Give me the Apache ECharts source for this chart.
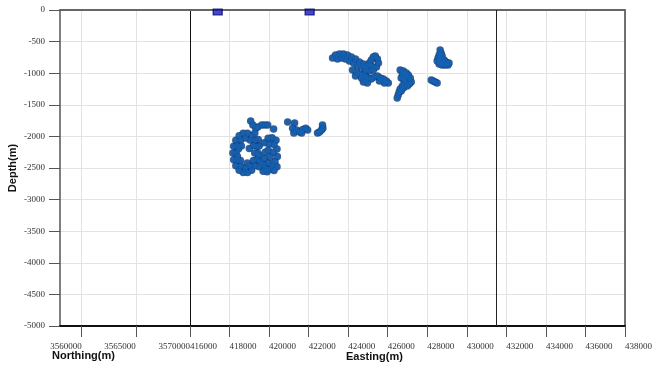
<!DOCTYPE html>
<html>
<head>
<meta charset="utf-8">
<script src="https://cdn.jsdelivr.net/npm/echarts@6/dist/echarts.min.js"></script>
<style>
  html, body { margin: 0; padding: 0; background: #ffffff; }
  #chart { width: 664px; height: 368px; }
</style>
</head>
<body>
<div id="chart"></div>
<script>
// Axis ranges and tick labels
const northingRange = [3558000, 3570000];
const northingTicks = [3560000, 3565000, 3570000];
const eastingRange = [416000, 438000];
const eastingStep = 2000;
const depthRange = [-5000, 0];
const depthStep = 500;
const boxEdgeEasting = 431500;

// Event locations [Easting (m), Depth (m)]
const southCluster = [
  // outer rim
  [419430, -2262], [419392, -2154], [419283, -2059], [419115, -1988], [418909, -1951],
  [418691, -1951], [418485, -1988], [418317, -2059], [418208, -2154], [418170, -2262],
  [418208, -2370], [418317, -2465], [418485, -2536], [418691, -2573], [418909, -2573],
  [419115, -2536], [419283, -2465], [419392, -2370],
  // inner rim
  [419272, -2262], [419209, -2144], [419036, -2057], [418800, -2025], [418564, -2057],
  [418391, -2144], [418328, -2262], [418391, -2380], [418564, -2467], [418800, -2499],
  [419036, -2467], [419209, -2380], [418400, -2320], [418450, -2200],
  // scattered interior events
  [418600, -2150], [419000, -2190], [418900, -2420], [418550, -2380],
  // central column
  [419450, -2050], [419500, -2150], [419480, -2300], [419550, -2400], [419500, -2480],
  // eastern lobe
  [419950, -2030], [420150, -2020], [420350, -2060], [420000, -2120], [420250, -2130],
  [420400, -2200], [419950, -2220], [420200, -2250], [420420, -2320], [420050, -2330],
  [420300, -2400], [419950, -2420], [420150, -2460], [420400, -2480], [420000, -2520],
  [420250, -2540], [419800, -2500], [419700, -2440], [419750, -2350], [419800, -2250],
  [419750, -2100], [419700, -2550], [419900, -2560],
  // upward tail
  [419070, -1756], [419180, -1820], [419330, -1867], [419280, -1946], [419430, -1851],
  [419630, -1820], [419780, -1820], [419930, -1820], [420230, -1883]
];
const midCluster = [
  [420940, -1772], [421290, -1788], [421190, -1870], [421390, -1900], [421250, -1946],
  [421540, -1930], [421700, -1890], [421850, -1870], [421950, -1900], [421650, -1946],
  [422700, -1820], [422450, -1946], [422550, -1930], [422650, -1900], [422720, -1870]
];
const northCluster = [
  [423210, -759], [423360, -712], [423560, -696], [423760, -696], [423960, -712],
  [424160, -744], [424370, -775], [424570, -823], [424770, -854], [423460, -775],
  [423660, -759], [423860, -775], [424060, -807], [424270, -838], [424470, -870],
  [424670, -902], [424870, -918], [424970, -886], [425070, -838], [425170, -791],
  [425270, -744], [425370, -728], [425480, -775], [425530, -838], [425430, -902],
  [425270, -949], [425070, -965], [424870, -965], [425170, -886],
  [424220, -949], [424420, -981], [424570, -1012], [424720, -1028], [424870, -1044],
  [425020, -1076], [425170, -1092], [425320, -1060], [425480, -1044], [425630, -1076],
  [425780, -1092], [425930, -1123], [426030, -1155], [425830, -1155], [425580, -1123],
  [424370, -1044], [424670, -1076], [424870, -1107], [424970, -1155], [424770, -1139]
];
const eastCluster = [
  [426630, -949], [426790, -965], [426940, -997], [426740, -1012], [426890, -1044],
  [427040, -1028], [427140, -1076], [427190, -1139], [427090, -1171], [426940, -1107],
  [426790, -1092], [426680, -1076], [426840, -1155], [426740, -1202], [426630, -1250],
  [426580, -1297], [426530, -1345], [426480, -1392], [426680, -1281], [426790, -1234],
  [426990, -1202]
];
const farEastCluster = [
  [428650, -633], [428700, -680], [428600, -712], [428750, -728], [428550, -759],
  [428700, -775], [428850, -791], [428500, -807], [428650, -823], [428800, -838],
  [428950, -823], [429100, -838], [429050, -870], [428900, -870], [428750, -870],
  [428600, -854],
  [428200, -1107], [428300, -1123], [428400, -1139], [428500, -1155]
];
const stations = [[417400, -32], [422050, -32]];

const events = [].concat(southCluster, midCluster, northCluster, eastCluster, farEastCluster);

const tickFont = { fontFamily: '"Liberation Serif", serif', fontSize: 9, color: '#333' };
const gridLine = { show: true, lineStyle: { color: '#e3e3e3', width: 1 } };
const plain = v => String(v);

const chart = echarts.init(document.getElementById('chart'), null, { renderer: 'canvas' });
chart.setOption({
  backgroundColor: '#ffffff',
  animation: false,
  grid: [
    { left: 60, top: 10, width: 130, height: 316 },
    { left: 190, top: 10, width: 435, height: 316 }
  ],
  xAxis: [
    {
      gridIndex: 0, type: 'value', position: 'bottom',
      min: northingRange[0], max: northingRange[1],
      axisLine: { show: true, onZero: false, lineStyle: { color: '#111', width: 2 } },
      axisTick: { show: true, customValues: northingTicks, length: 11, lineStyle: { color: '#555' } },
      axisLabel: Object.assign({ customValues: northingTicks, align: 'right', margin: 16, formatter: plain }, tickFont),
      splitLine: gridLine
    },
    {
      gridIndex: 1, type: 'value', position: 'bottom',
      min: eastingRange[0], max: eastingRange[1], interval: eastingStep,
      axisLine: { show: true, onZero: false, lineStyle: { color: '#111', width: 2 } },
      axisTick: { show: true, length: 11, lineStyle: { color: '#555' } },
      axisLabel: Object.assign({ align: 'left', margin: 16, formatter: plain, showMinLabel: true, showMaxLabel: true, hideOverlap: false }, tickFont),
      splitLine: gridLine
    },
    {
      gridIndex: 0, type: 'value', position: 'top',
      min: northingRange[0], max: northingRange[1],
      axisLine: { show: true, onZero: false, lineStyle: { color: '#666', width: 2 } },
      axisTick: { show: false }, axisLabel: { show: false }, splitLine: { show: false }
    },
    {
      gridIndex: 1, type: 'value', position: 'top',
      min: eastingRange[0], max: eastingRange[1],
      axisLine: { show: true, onZero: false, lineStyle: { color: '#666', width: 2 } },
      axisTick: { show: false }, axisLabel: { show: false }, splitLine: { show: false }
    }
  ],
  yAxis: [
    {
      gridIndex: 0, type: 'value', position: 'left',
      min: depthRange[0], max: depthRange[1], interval: depthStep,
      name: 'Depth(m)', nameLocation: 'middle', nameGap: 42,
      nameTextStyle: { fontFamily: '"Liberation Sans", Arial, sans-serif', fontWeight: 'bold', fontSize: 11, color: '#111' },
      axisLine: { show: true, onZero: false, lineStyle: { color: '#555', width: 1.5 } },
      axisTick: { show: true, length: 11, lineStyle: { color: '#555' } },
      axisLabel: Object.assign({ margin: 15, formatter: plain }, tickFont),
      splitLine: gridLine
    },
    {
      gridIndex: 1, type: 'value', position: 'left',
      min: depthRange[0], max: depthRange[1], interval: depthStep,
      axisLine: { show: true, onZero: false, lineStyle: { color: '#111', width: 1 } },
      axisTick: { show: false }, axisLabel: { show: false },
      splitLine: gridLine
    },
    {
      gridIndex: 1, type: 'value', position: 'right',
      min: depthRange[0], max: depthRange[1],
      axisLine: { show: true, onZero: false, lineStyle: { color: '#444', width: 1.5 } },
      axisTick: { show: false }, axisLabel: { show: false }, splitLine: { show: false }
    }
  ],
  graphic: [
    {
      type: 'text', left: 52, top: 350,
      style: { text: 'Northing(m)', fill: '#111', font: 'bold 11px "Liberation Sans Narrow", "Liberation Sans", Arial, sans-serif' }
    },
    {
      type: 'text', left: 346, top: 351,
      style: { text: 'Easting(m)', fill: '#111', font: 'bold 11px "Liberation Sans Narrow", "Liberation Sans", Arial, sans-serif' }
    }
  ],
  series: [
    {
      // dark outline layer of the event clouds
      type: 'scatter', xAxisIndex: 1, yAxisIndex: 1,
      data: events,
      symbolSize: 7.5,
      itemStyle: { color: '#0a3878' },
      markLine: {
        silent: true, symbol: 'none', label: { show: false },
        lineStyle: { color: '#222', width: 1, type: 'solid' },
        data: [{ xAxis: boxEdgeEasting }]
      }
    },
    {
      // fill layer of the event clouds
      type: 'scatter', xAxisIndex: 1, yAxisIndex: 1,
      data: events,
      symbolSize: 5.5,
      itemStyle: { color: '#1463b4' }
    },
    {
      type: 'scatter', xAxisIndex: 1, yAxisIndex: 1,
      data: stations,
      symbol: 'rect', symbolSize: [9, 6],
      itemStyle: { color: '#1a1ab8', borderColor: '#00006a', borderWidth: 1 }
    }
  ]
});
</script>
</body>
</html>
